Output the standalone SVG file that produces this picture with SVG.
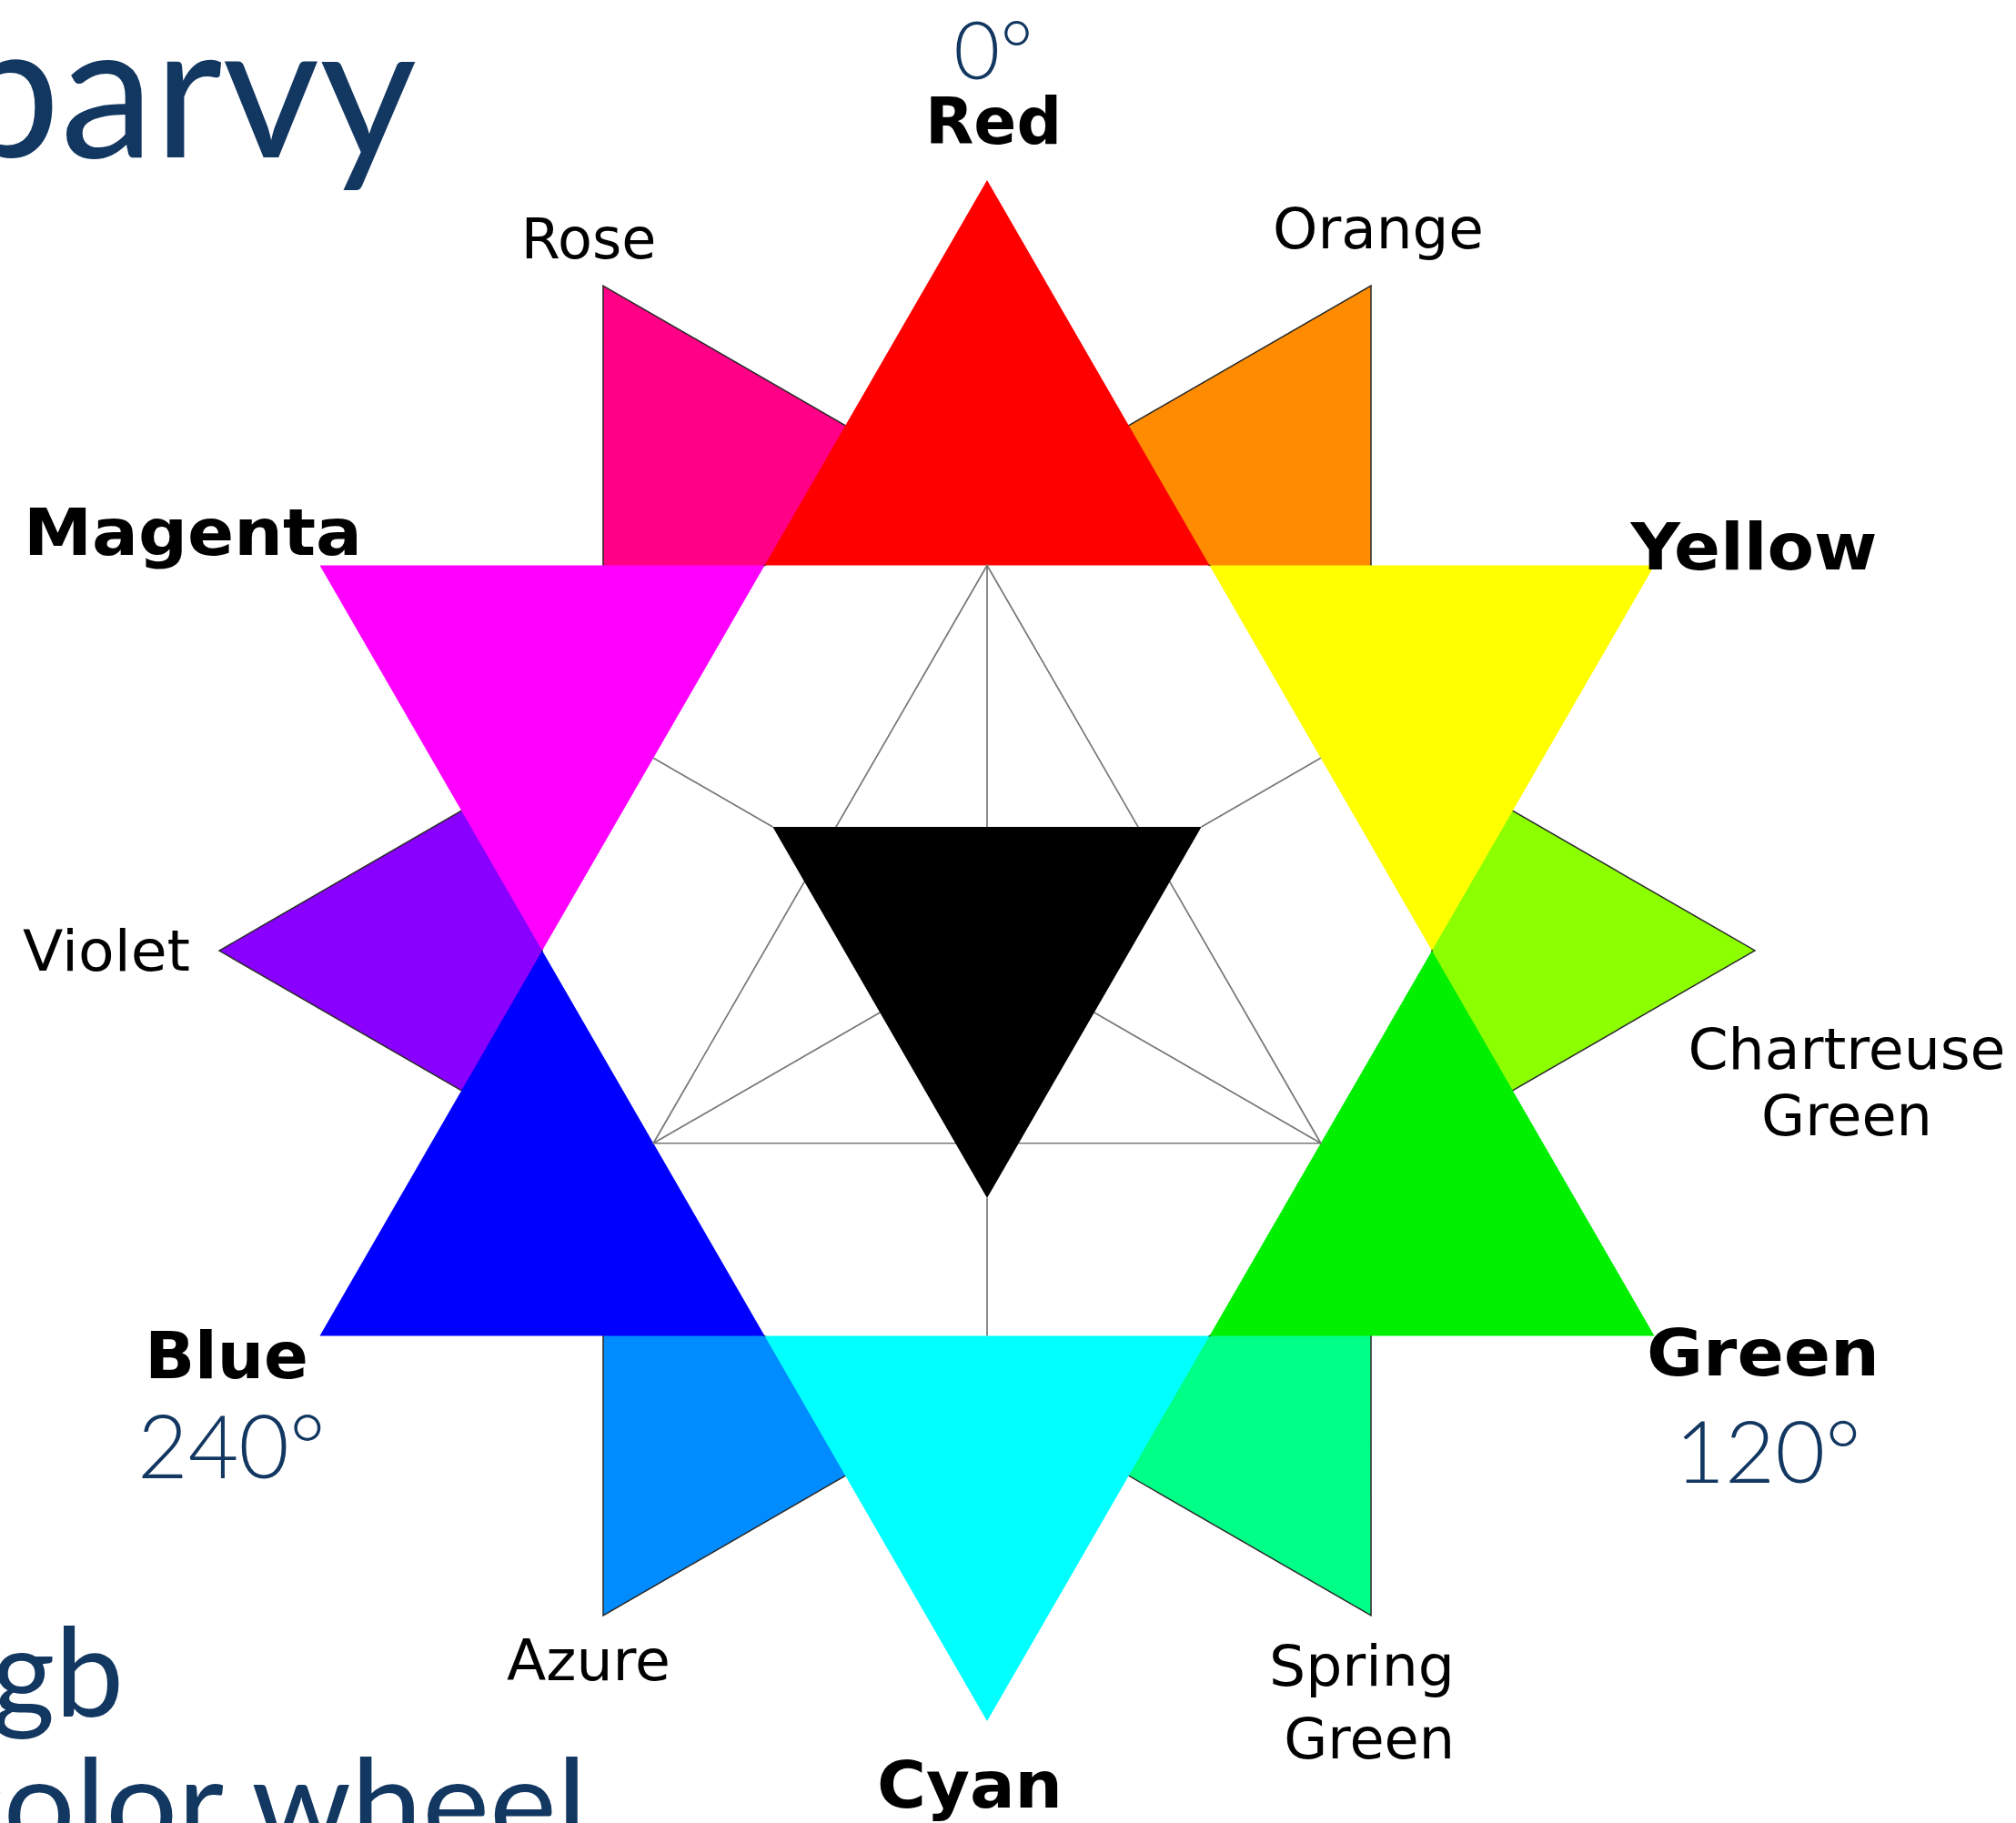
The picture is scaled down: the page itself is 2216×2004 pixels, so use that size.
<svg xmlns="http://www.w3.org/2000/svg" xmlns:xlink="http://www.w3.org/1999/xlink" width="2216" height="2004" viewBox="0 0 2216 2004">
<style>
.lbl{font-family:"DejaVu Sans","Liberation Sans",sans-serif;font-size:62px;fill:#000}
.bold{font-weight:bold;font-size:72px}
.deg{font-family:Lato,"Open Sans","Liberation Sans",sans-serif;font-weight:300;fill:#123761}
.title{font-family:Lato,"Open Sans","Liberation Sans",sans-serif;font-weight:400;fill:#123761}
.tert{stroke:#2a2a2a;stroke-width:1.5;stroke-linejoin:miter}
.grid{stroke:#777;stroke-width:1.7;fill:none}
</style>
<defs>
<polygon id="tt" points="422,-731 422,-321.1 67,-526"/>
</defs>
<rect width="2216" height="2004" fill="#fff"/>
<g id="titles">
<text class="title" x="458" y="173" font-size="207" text-anchor="end">barvy</text>
<text class="title" x="136" y="1887" font-size="135" text-anchor="end">rgb</text>
<text class="title" x="-62" y="2031" font-size="135" textLength="707" lengthAdjust="spacingAndGlyphs">color wheel</text>
</g>
<g id="tertiary">
<use id="orange" xlink:href="#tt" class="tert" fill="#FF8C00" transform="translate(1085,1045)"/>
<use id="chartreuse" xlink:href="#tt" class="tert" fill="#8CFF00" transform="translate(1085,1045) rotate(60)"/>
<use id="spring-green" xlink:href="#tt" class="tert" fill="#00FF86" transform="translate(1085,1045) rotate(120)"/>
<use id="azure" xlink:href="#tt" class="tert" fill="#008CFF" transform="translate(1085,1045) rotate(180)"/>
<use id="violet" xlink:href="#tt" class="tert" fill="#8A00FF" transform="translate(1085,1045) rotate(240)"/>
<use id="rose" xlink:href="#tt" class="tert" fill="#FF0086" transform="translate(1085,1045) rotate(300)"/>
</g>
<g id="primary">
<polygon id="red" fill="#FF0000" points="1085,198 840.5,621.5 1329.5,621.5"/>
<polygon id="yellow" fill="#FFFF00" points="1329.5,621.5 1818.5,621.5 1574,1045"/>
<polygon id="green" fill="#00F000" points="1574,1045 1818.5,1468.5 1329.5,1468.5"/>
<polygon id="cyan" fill="#00FFFF" points="1329.5,1468.5 840.5,1468.5 1085,1892"/>
<polygon id="blue" fill="#0000FF" points="840.5,1468.5 351.5,1468.5 596,1045"/>
<polygon id="magenta" fill="#FF00FF" points="596,1045 351.5,621.5 840.5,621.5"/>
</g>
<g id="connectors" class="grid">
<polygon points="1085,621.5 1451.8,1256.75 718.2,1256.75"/>
<line x1="1085" y1="621.5" x2="1085" y2="1045"/>
<line x1="1451.8" y1="1256.75" x2="1085" y2="1045"/>
<line x1="718.2" y1="1256.75" x2="1085" y2="1045"/>
<line x1="849.4" y1="909" x2="718.2" y2="833.25"/>
<line x1="1320.6" y1="909" x2="1451.8" y2="833.25"/>
<line x1="1085" y1="1317" x2="1085" y2="1468.5"/>
</g>
<g id="black">
<polygon fill="#000" points="849.4,909 1320.6,909 1085,1317"/>
</g>
<g id="labels">
<text class="deg" x="1092" y="87" font-size="88" text-anchor="middle">0°</text>
<text class="lbl bold" x="1092" y="158" text-anchor="middle" textLength="150" lengthAdjust="spacingAndGlyphs">Red</text>
<text class="lbl" x="647" y="284" text-anchor="middle">Rose</text>
<text class="lbl" x="1515" y="273" text-anchor="middle" textLength="232" lengthAdjust="spacingAndGlyphs">Orange</text>
<text class="lbl bold" x="212" y="610" text-anchor="middle" font-size="73" textLength="372" lengthAdjust="spacingAndGlyphs">Magenta</text>
<text class="lbl bold" x="1928" y="626" text-anchor="middle" font-size="73" textLength="271" lengthAdjust="spacingAndGlyphs">Yellow</text>
<text class="lbl" x="117" y="1067" text-anchor="middle" font-size="63" textLength="184" lengthAdjust="spacingAndGlyphs">Violet</text>
<text class="lbl" x="2030" y="1175" text-anchor="middle" font-size="63" textLength="349" lengthAdjust="spacingAndGlyphs">Chartreuse</text>
<text class="lbl" x="2030" y="1248" text-anchor="middle" font-size="63">Green</text>
<text class="lbl bold" x="249" y="1515" text-anchor="middle" font-size="68">Blue</text>
<text class="deg" x="151" y="1625" font-size="96">240°</text>
<text class="lbl bold" x="1938" y="1512" text-anchor="middle" font-size="74" textLength="256" lengthAdjust="spacingAndGlyphs">Green</text>
<text class="deg" x="1841" y="1630" font-size="95">120°</text>
<text class="lbl" x="647" y="1847" text-anchor="middle" textLength="180" lengthAdjust="spacingAndGlyphs">Azure</text>
<text class="lbl" x="1599" y="1853" text-anchor="end" font-size="63" textLength="204" lengthAdjust="spacingAndGlyphs">Spring</text>
<text class="lbl" x="1599" y="1933" text-anchor="end" font-size="63">Green</text>
<text class="lbl bold" x="1066" y="1987" text-anchor="middle" textLength="204" lengthAdjust="spacingAndGlyphs">Cyan</text>
</g>
</svg>
